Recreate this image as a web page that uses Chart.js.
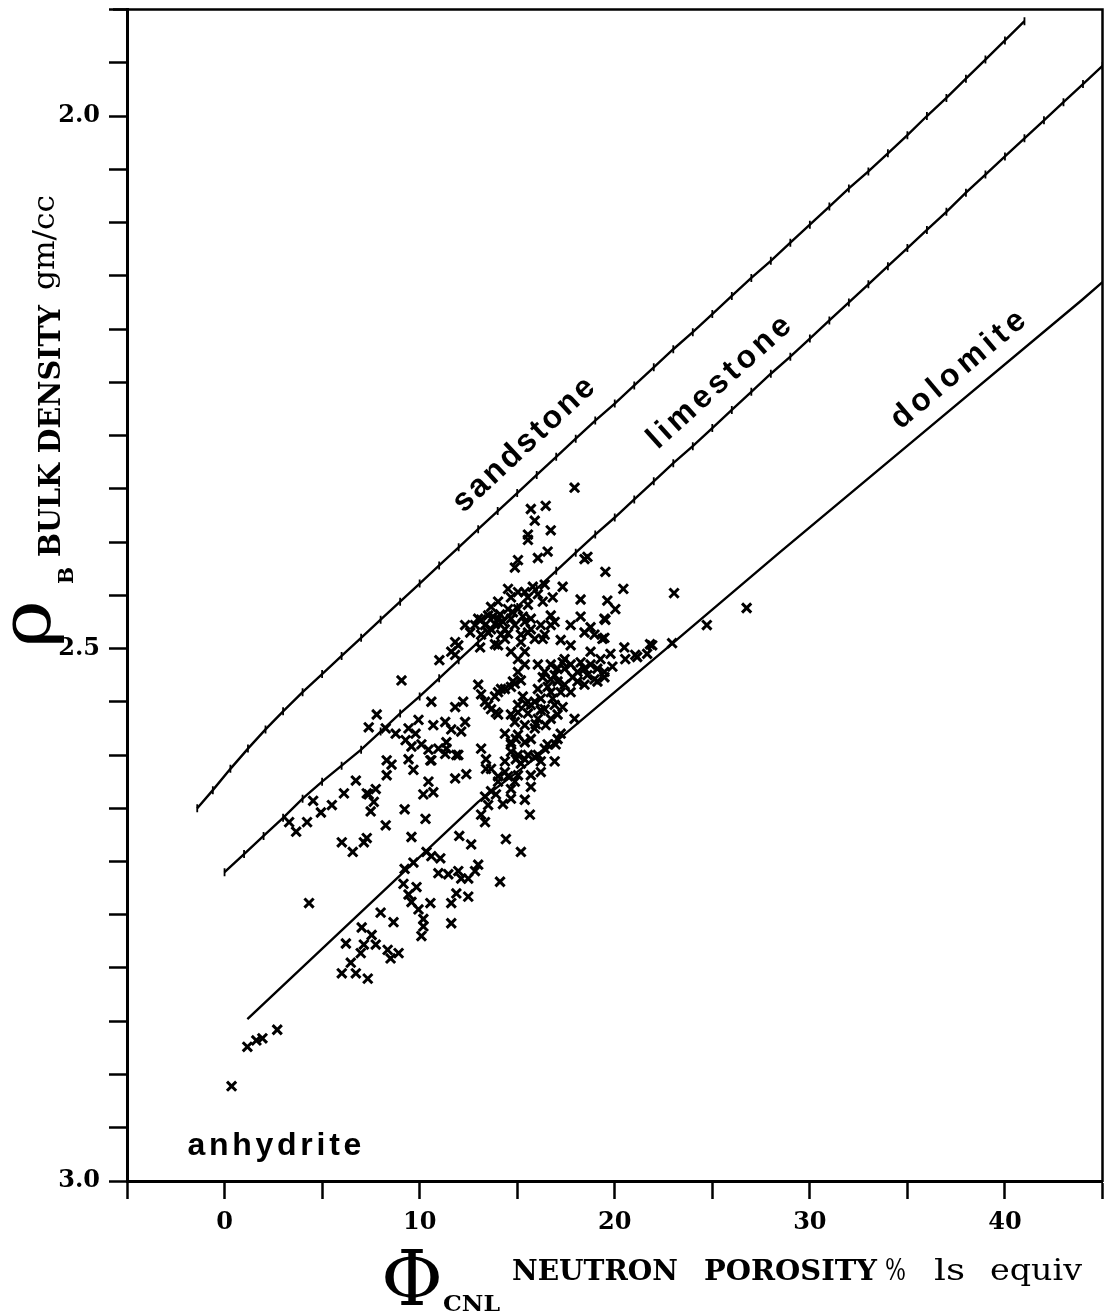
<!DOCTYPE html>
<html>
<head>
<meta charset="utf-8">
<script src="https://cdn.jsdelivr.net/npm/chart.js@4/dist/chart.umd.min.js"></script>
<style>
  html, body { margin: 0; padding: 0; background: #fff; }
  #wrap { width: 1112px; height: 1314px; }
</style>
</head>
<body>
<div id="wrap"><canvas id="chartCnl"></canvas></div>
<script>
// tick labels
const xTickLabels = [0, 10, 20, 30, 40]
const yTickValues = [2.0, 2.5, 3.0]
const yTickLabels = ['2.0', '2.5', '3.0']

// sandstone curve (neutron porosity ls units, bulk density)
const sandPhi = [-1.4, -0.6, 0.3, 1.2, 2.1, 3.0, 4, 5, 6, 7, 8, 9, 10, 11, 12, 13, 14, 15, 16, 17, 18, 19, 20,
  21, 22, 23, 24, 25, 26, 27, 28, 29, 30, 31, 32, 33, 34, 35, 36, 37, 38, 39, 40, 41]
const sandRho = [2.650, 2.633, 2.613, 2.594, 2.576, 2.559, 2.541, 2.524, 2.507, 2.490, 2.473, 2.456, 2.439,
  2.422, 2.405, 2.388, 2.371, 2.354, 2.337, 2.320, 2.303, 2.286, 2.270, 2.253, 2.236, 2.219, 2.203, 2.186,
  2.169, 2.152, 2.136, 2.119, 2.102, 2.085, 2.068, 2.052, 2.035, 2.018, 2.000, 1.983, 1.965, 1.947, 1.929, 1.911]

// limestone curve
const limePhi = [0, 1, 2, 3, 4, 5, 6, 7, 8, 9, 10, 11, 12, 13, 14, 15, 16, 17, 18, 19, 20, 21, 22, 23, 24,
  25, 26, 27, 28, 29, 30, 31, 32, 33, 34, 35, 36, 37, 38, 39, 40, 41, 42, 43, 44, 45]
const limeRho = [2.710, 2.693, 2.676, 2.659, 2.641, 2.625, 2.610, 2.595, 2.578, 2.561, 2.545, 2.528, 2.511,
  2.494, 2.478, 2.461, 2.444, 2.427, 2.410, 2.393, 2.377, 2.360, 2.343, 2.326, 2.310, 2.293, 2.276, 2.259,
  2.242, 2.226, 2.209, 2.192, 2.175, 2.158, 2.141, 2.124, 2.107, 2.090, 2.072, 2.055, 2.038, 2.021, 2.004,
  1.987, 1.970, 1.953]

// dolomite curve
const dolPhi = [1.17, 13.0, 16.56, 22.78, 28.44, 35.5, 43.93, 45.0]
const dolRho = [2.848, 2.644, 2.594, 2.498, 2.410, 2.302, 2.173, 2.156]

// log samples [phi, rho]
const samplePoints = [
  [0.36, 2.911], [1.17, 2.874], [1.63, 2.868], [1.94, 2.866], [2.70, 2.858], [4.33, 2.739],
  [6.47, 2.795], [6.01, 2.805], [6.73, 2.805], [7.34, 2.810], [6.22, 2.777], [6.98, 2.786], [7.14, 2.778],
  [7.75, 2.778], [8.36, 2.783], [8.92, 2.786], [8.51, 2.791], [7.03, 2.762], [7.54, 2.769], [8.00, 2.748],
  [8.66, 2.757], [10.09, 2.770], [10.19, 2.754], [10.19, 2.761], [9.94, 2.745], [11.62, 2.758], [10.55, 2.739],
  [11.62, 2.739], [9.58, 2.738], [9.43, 2.731], [9.17, 2.721], [9.84, 2.724], [9.23, 2.707], [9.68, 2.701],
  [10.35, 2.691], [10.60, 2.695], [11.06, 2.697], [10.96, 2.711], [11.47, 2.712], [11.98, 2.709], [12.49, 2.716],
  [12.84, 2.709], [11.88, 2.730], [12.49, 2.733], [12.13, 2.716], [14.12, 2.719], [13.00, 2.703], [12.64, 2.684],
  [12.03, 2.676], [9.58, 2.677], [7.14, 2.682], [7.29, 2.678], [6.57, 2.691], [6.01, 2.682], [3.67, 2.672],
  [3.31, 2.663], [4.23, 2.663], [4.54, 2.643], [5.50, 2.647], [4.94, 2.654], [6.12, 2.636], [7.39, 2.637],
  [7.75, 2.632], [7.65, 2.644], [7.49, 2.653], [9.23, 2.651], [8.26, 2.666], [10.30, 2.660], [10.45, 2.625],
  [10.19, 2.637], [10.70, 2.635], [6.73, 2.624], [8.31, 2.619], [8.31, 2.605], [8.56, 2.609], [9.43, 2.604],
  [9.68, 2.614], [10.60, 2.605], [11.31, 2.599], [11.88, 2.600],
  [11.01, 2.511], [11.82, 2.506], [9.07, 2.530], [10.60, 2.550], [11.82, 2.555], [12.23, 2.550], [13.00, 2.534],
  [13.15, 2.543], [13.86, 2.545], [14.37, 2.538], [14.88, 2.533], [13.51, 2.553], [13.91, 2.560], [15.04, 2.553],
  [15.44, 2.552], [15.90, 2.550], [16.21, 2.558], [15.95, 2.571], [14.88, 2.569], [7.80, 2.562], [7.39, 2.574],
  [8.26, 2.575], [8.77, 2.580], [9.43, 2.575], [9.94, 2.567], [9.79, 2.580], [10.70, 2.572], [11.31, 2.569],
  [12.33, 2.569], [11.62, 2.576], [12.13, 2.578], [9.28, 2.586], [9.58, 2.592], [10.09, 2.590], [10.45, 2.595],
  [10.96, 2.594], [11.37, 2.594], [11.98, 2.600], [10.55, 2.605], [13.15, 2.594], [13.40, 2.604], [14.37, 2.580],
  [14.68, 2.588], [14.93, 2.604], [15.39, 2.604], [15.90, 2.602], [16.21, 2.606], [13.40, 2.613], [14.02, 2.620],
  [14.53, 2.620], [14.88, 2.625], [15.70, 2.619], [15.70, 2.630], [7.29, 2.636], [11.82, 2.622], [12.39, 2.618],
  [13.35, 2.639], [13.51, 2.647], [13.91, 2.637], [14.27, 2.646], [14.68, 2.641], [15.39, 2.642], [13.15, 2.656],
  [13.35, 2.663], [15.65, 2.656], [14.42, 2.679], [15.19, 2.691],
  [15.19, 2.608], [16.92, 2.606], [16.06, 2.600], [15.55, 2.600], [14.68, 2.597], [14.37, 2.606], [13.66, 2.613],
  [14.17, 2.538], [14.78, 2.531], [15.19, 2.530], [13.35, 2.550], [13.66, 2.557], [14.02, 2.562], [14.68, 2.562],
  [16.46, 2.572], [17.07, 2.562], [14.93, 2.585], [15.70, 2.585], [16.56, 2.590], [17.94, 2.566],
  [11.37, 2.588], [16.72, 2.566], [16.06, 2.566], [15.39, 2.572], [15.90, 2.575], [15.39, 2.588], [15.04, 2.581],
  [14.68, 2.590], [15.04, 2.600], [16.41, 2.594], [17.07, 2.585], [16.21, 2.616], [15.04, 2.619], [14.37, 2.616],
  [14.68, 2.632], [14.02, 2.625], [13.66, 2.634], [17.23, 2.580], [16.97, 2.590],
  [11.98, 2.497], [11.62, 2.503], [11.82, 2.494], [13.10, 2.499], [13.86, 2.496], [14.17, 2.487], [14.37, 2.491],
  [15.19, 2.494], [14.68, 2.503], [15.04, 2.510], [15.39, 2.515], [16.31, 2.491], [15.39, 2.503], [15.04, 2.522],
  [12.33, 2.478], [12.59, 2.485], [12.84, 2.478], [13.15, 2.473], [13.51, 2.469], [13.66, 2.461], [14.02, 2.456],
  [14.12, 2.468], [13.86, 2.477], [14.37, 2.482], [14.53, 2.463], [15.04, 2.463], [15.55, 2.459], [14.53, 2.444],
  [15.39, 2.447], [14.68, 2.452], [14.88, 2.478], [15.39, 2.475], [15.70, 2.482], [16.21, 2.478], [16.72, 2.469],
  [16.72, 2.478], [16.41, 2.487], [15.90, 2.491], [15.19, 2.487], [13.15, 2.487], [13.66, 2.482], [16.92, 2.475],
  [15.70, 2.472], [14.68, 2.472], [14.02, 2.472], [13.35, 2.478], [13.00, 2.472], [16.06, 2.449], [16.41, 2.440],
  [17.33, 2.442], [18.25, 2.454], [17.74, 2.478], [18.25, 2.470], [18.45, 2.485], [18.96, 2.487], [19.52, 2.473],
  [19.37, 2.491], [18.76, 2.480], [17.74, 2.497], [17.23, 2.492],
  [13.76, 2.470], [14.27, 2.475], [14.78, 2.466], [15.29, 2.470], [13.51, 2.485], [14.53, 2.486], [15.55, 2.485],
  [14.02, 2.497], [15.04, 2.447], [15.80, 2.442], [16.31, 2.456], [15.55, 2.452], [16.82, 2.452],
  [15.04, 2.417], [14.88, 2.424], [16.06, 2.415], [16.56, 2.409], [15.55, 2.393], [15.55, 2.398], [16.72, 2.389],
  [15.90, 2.380], [15.70, 2.369], [16.46, 2.366], [17.94, 2.349], [18.45, 2.416], [19.52, 2.428], [20.44, 2.444],
  [20.03, 2.463], [19.47, 2.472], [19.62, 2.455], [20.49, 2.499], [19.78, 2.505], [21.81, 2.496], [21.66, 2.505],
  [21.05, 2.506], [22.94, 2.495], [23.04, 2.448], [26.76, 2.462], [24.72, 2.478], [18.60, 2.414], [19.47, 2.490],
  [18.76, 2.503], [19.27, 2.510], [20.54, 2.510], [21.15, 2.508], [21.92, 2.497], [19.88, 2.517], [19.47, 2.527],
  [16.06, 2.515], [16.41, 2.522], [16.72, 2.515], [17.07, 2.519], [17.43, 2.519], [17.74, 2.515], [18.09, 2.522],
  [18.45, 2.519], [18.76, 2.515], [19.11, 2.519], [19.47, 2.522], [17.43, 2.510], [16.72, 2.529], [17.07, 2.531],
  [17.43, 2.534], [18.09, 2.531], [18.45, 2.534], [18.96, 2.529], [17.74, 2.541], [17.23, 2.541], [16.72, 2.541],
  [16.06, 2.538], [16.21, 2.547], [15.70, 2.553], [16.41, 2.557], [16.92, 2.553], [15.04, 2.560], [14.02, 2.541],
  [14.68, 2.536],
  [16.31, 2.527], [16.92, 2.525], [17.84, 2.527], [18.60, 2.525], [17.33, 2.513], [18.25, 2.513], [16.56, 2.536],
  [19.11, 2.531], [15.29, 2.545], [16.82, 2.547], [15.55, 2.561], [17.33, 2.555]
]

const toXY = (xs, ys) => xs.map((v, i) => ({ x: v, y: ys[i] }))

// stretch a word to a given width with letter spacing
function fitText(ctx, text, x, y, width) {
	ctx.letterSpacing = '0px'
	const w = ctx.measureText(text).width
	const sp = text.length > 1 ? (width - w) / (text.length - 1) : 0
	ctx.letterSpacing = sp + 'px'
	ctx.fillText(text, x, y)
	ctx.letterSpacing = '0px'
}

// stretch glyphs horizontally to a given width
function fitScale(ctx, text, x, y, width) {
	const w = ctx.measureText(text).width
	ctx.save()
	ctx.translate(x, y)
	ctx.scale(width / w, 1)
	ctx.fillText(text, 0, 0)
	ctx.restore()
}

const serif = '"DejaVu Serif", serif'
const sans = '"Liberation Sans", Arial, sans-serif'

const decorations = {
	id: 'decorations',
	afterDraw(chart) {
		const { ctx, chartArea: a, scales } = chart
		ctx.save()
		// top and right frame
		ctx.strokeStyle = '#000'
		ctx.lineWidth = 2.5
		ctx.beginPath()
		ctx.moveTo(a.left - 14, a.top)
		ctx.lineTo(a.right, a.top)
		ctx.lineTo(a.right, a.bottom + 1)
		ctx.stroke()

		ctx.fillStyle = '#000'
		// lithology labels
		const labels = [
			{ text: 'sandstone', phi: 15.4, rho: 2.308, angle: -43, width: 182 },
			{ text: 'limestone', phi: 25.45, rho: 2.249, angle: -42, width: 182 },
			{ text: 'dolomite', phi: 37.7, rho: 2.237, angle: -40, width: 166 },
			{ text: 'anhydrite', phi: 2.65, rho: 2.967, angle: 0, width: 174 },
		]
		ctx.font = 'bold 32px ' + sans
		ctx.textAlign = 'center'
		ctx.textBaseline = 'middle'
		labels.forEach((l) => {
			ctx.save()
			ctx.translate(scales.x.getPixelForValue(l.phi), scales.y.getPixelForValue(l.rho))
			ctx.rotate((l.angle * Math.PI) / 180)
			fitText(ctx, l.text, 0, 0, l.width)
			ctx.restore()
		})

		// x axis title
		ctx.textAlign = 'left'
		ctx.textBaseline = 'alphabetic'
		ctx.font = '76px ' + serif
		fitScale(ctx, '\u03A6', 381, 1305, 62)
		ctx.font = 'bold 22px ' + serif
		fitScale(ctx, 'CNL', 443, 1311, 57)
		ctx.font = 'bold 28px ' + serif
		fitScale(ctx, 'NEUTRON', 512, 1280, 166)
		fitScale(ctx, 'POROSITY', 704, 1280, 173)
		ctx.font = '30px ' + serif
		fitScale(ctx, '%', 885, 1280, 21)
		fitScale(ctx, 'ls', 934, 1280, 31)
		fitScale(ctx, 'equiv', 990, 1280, 92)

		// y axis title, rotated
		const vtext = (text, font, bx, by, width) => {
			ctx.save()
			ctx.translate(bx, by)
			ctx.rotate(-Math.PI / 2)
			ctx.font = font
			fitScale(ctx, text, 0, 0, width)
			ctx.restore()
		}
		vtext('\u03C1', '70px ' + serif, 50, 648, 48)
		vtext('B', 'bold 21px ' + serif, 73, 584, 17)
		vtext('BULK DENSITY', 'bold 30px ' + serif, 60, 557, 252)
		vtext('gm/cc', '30px ' + serif, 54, 290, 95)
		ctx.restore()
	},
}

const ctxCnl = document.getElementById('chartCnl').getContext('2d')
const chartCnl = new Chart(ctxCnl, {
	type: 'scatter',
	data: {
		datasets: [
			{
				label: 'sandstone',
				data: toXY(sandPhi, sandRho),
				showLine: true,
				borderColor: '#000',
				borderWidth: 2.4,
				pointStyle: 'line',
				rotation: 90,
				pointRadius: 4,
				pointBorderWidth: 1.8,
				pointBorderColor: '#000',
			},
			{
				label: 'limestone',
				data: toXY(limePhi, limeRho),
				showLine: true,
				borderColor: '#000',
				borderWidth: 2.4,
				pointStyle: 'line',
				rotation: 90,
				pointRadius: 4,
				pointBorderWidth: 1.8,
				pointBorderColor: '#000',
			},
			{
				label: 'dolomite',
				data: toXY(dolPhi, dolRho),
				showLine: true,
				borderColor: '#000',
				borderWidth: 2.4,
				pointRadius: 0,
			},
			{
				label: 'samples',
				data: samplePoints.map(([x, y]) => ({ x, y })),
				pointStyle: 'crossRot',
				pointRadius: 6.5,
				pointBorderWidth: 3,
				borderColor: '#000',
				backgroundColor: '#000',
			},
		],
	},
	options: {
		responsive: true,
		maintainAspectRatio: false,
		animation: false,
		layout: { padding: { top: 3, right: 4, left: 0, bottom: 0 } },
		plugins: {
			legend: { display: false },
			tooltip: { enabled: false },
		},
		scales: {
			x: {
				type: 'linear',
				min: -5,
				max: 45,
				afterFit: (s) => {
					s.height = 133
					s.paddingLeft = 0
					s.paddingRight = 0
				},
				ticks: {
					stepSize: 5,
					autoSkip: false,
					maxRotation: 0,
					padding: 9,
					color: '#000',
					font: { family: serif, weight: 'bold', size: 24 },
					callback: (v) => (xTickLabels.includes(Math.round(v)) && Math.abs(v - Math.round(v)) < 1e-6 ? String(Math.round(v)) : ''),
				},
				grid: { drawOnChartArea: false, drawTicks: true, tickLength: 18, tickWidth: 2.5, tickColor: '#000' },
				border: { display: true, color: '#000', width: 3 },
			},
			y: {
				type: 'linear',
				min: 1.9,
				max: 3.0,
				reverse: true,
				afterFit: (s) => {
					s.width = 127
					s.paddingTop = 0
					s.paddingBottom = 0
				},
				ticks: {
					stepSize: 0.05,
					autoSkip: false,
					maxTicksLimit: 100,
					padding: 9,
					color: '#000',
					font: { family: serif, weight: 'bold', size: 24 },
					callback: (v) => {
						const i = yTickValues.findIndex((t) => Math.abs(t - v) < 1e-6)
						return i >= 0 ? yTickLabels[i] : ''
					},
				},
				grid: { drawOnChartArea: false, drawTicks: true, tickLength: 18, tickWidth: 2.5, tickColor: '#000' },
				border: { display: true, color: '#000', width: 3 },
			},
		},
	},
	plugins: [decorations],
})
</script>
</body>
</html>
